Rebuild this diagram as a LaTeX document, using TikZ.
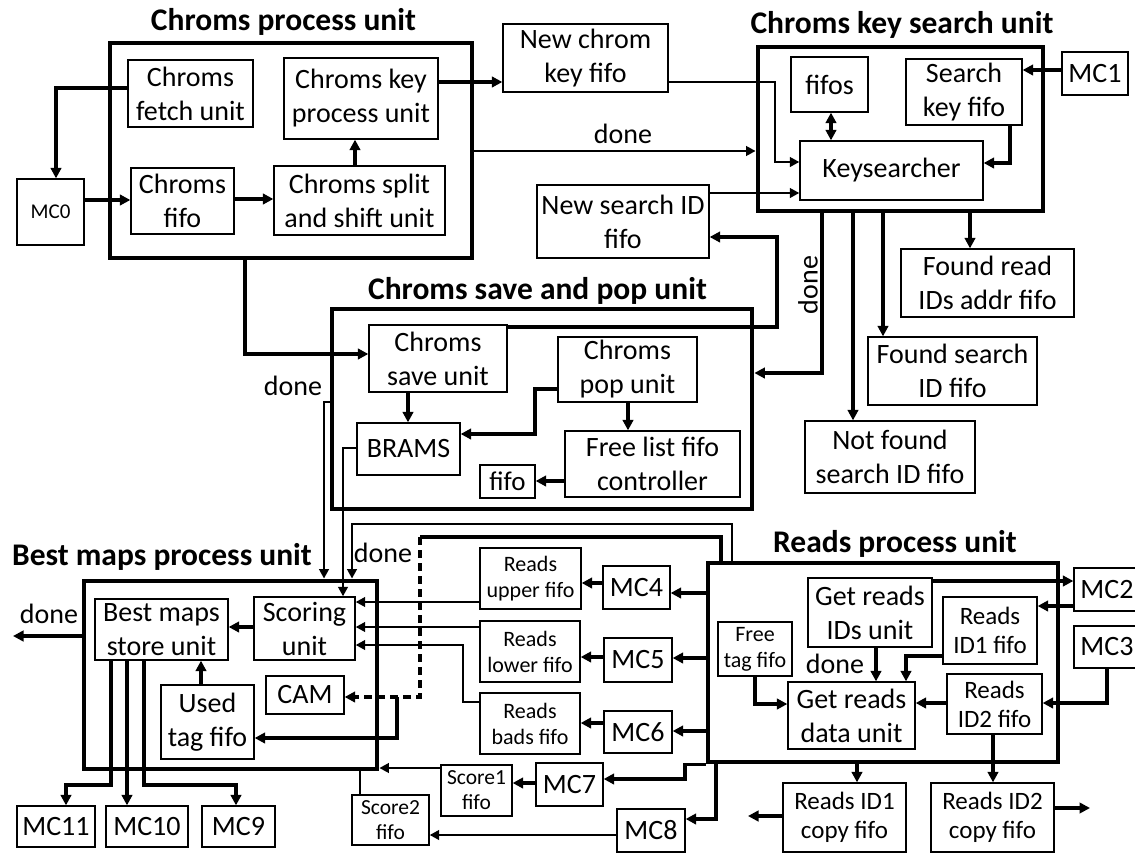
\documentclass[tikz,border=0pt]{standalone}
\usepackage{fontspec}
\setmainfont{Carlito}
\usetikzlibrary{arrows.meta}
\begin{document}
\begin{tikzpicture}[x=1pt,y=-1pt,
 box/.style={draw,line width=1.3pt,align=center,inner sep=0pt,font=\fontsize{28}{34}\selectfont},
 sbox/.style={box,font=\fontsize{22}{26}\selectfont},
 mbox/.style={box,font=\fontsize{25}{29}\selectfont},
 unit/.style={draw,line width=4.8pt,inner sep=0pt},
 title/.style={font=\bfseries\fontsize{31.5}{38}\selectfont,inner sep=0pt,anchor=base},
 lbl/.style={font=\fontsize{28}{34}\selectfont,inner sep=0pt,anchor=base},
 conn/.style={line width=3.3pt,-{Triangle[length=10.5pt,width=10.5pt]}},
 tconn/.style={line width=2.6pt,-{Triangle[length=9.5pt,width=9.5pt]}},
 plain/.style={line width=2.6pt},
]
\fill[white] (0,0) rectangle (1135,854);
\useasboundingbox (0,0) rectangle (1135,854);

% ---------- unit frames ----------
\node[unit,minimum width=362pt,minimum height=215pt] (CPU) at (291,150.5) {};
\node[unit,minimum width=285pt,minimum height=164pt] (KSU) at (900.5,129) {};
\node[unit,minimum width=420pt,minimum height=200pt] (SPU) at (542,409) {};
\node[unit,minimum width=293pt,minimum height=188pt] (BMU) at (230.5,675) {};
\node[unit,minimum width=350pt,minimum height=199pt] (RPU) at (883,662.5) {};

% ---------- titles ----------
\node[title] (tCPU) at (283.5,30) {Chroms process unit};
\node[title] (tKSU) at (902,33) {Chroms key search unit};
\node[title] (tSPU) at (537.5,299) {Chroms save and pop unit};
\node[title] (tBMU) at (162,565) {Best maps process unit};
\node[title] (tRPU) at (895,552) {Reads process unit};

% ---------- chroms process unit ----------
\node[box,minimum width=125pt,minimum height=67pt] (fetch) at (190.5,93.5) {Chroms\\fetch unit};
\node[box,minimum width=154pt,minimum height=81pt] (keyproc) at (361,98.5) {Chroms key\\process unit};
\node[box,minimum width=103pt,minimum height=66pt] (cfifo) at (182.5,201) {Chroms\\fifo};
\node[box,minimum width=171pt,minimum height=69pt] (split) at (359.5,200.5) {Chroms split\\and shift unit};
\node[box,font=\fontsize{21}{25}\selectfont,minimum width=67pt,minimum height=66pt] (MC0) at (50.5,212) {MC0};

\node[box,minimum width=165pt,minimum height=68pt] (newkey) at (585.5,58) {New chrom\\key fifo};
\node[box,minimum width=172pt,minimum height=73pt] (newsid) at (623,221.5) {New search ID\\fifo};

% ---------- key search unit ----------
\node[box,minimum width=77pt,minimum height=55pt] (fifos) at (829.5,84.5) {fifos};
\node[box,minimum width=116pt,minimum height=66pt] (skfifo) at (964,92) {Search\\key fifo};
\node[box,minimum width=66pt,minimum height=43pt] (MC1) at (1095,73.5) {MC1};
\node[box,minimum width=183pt,minimum height=59pt] (keys) at (891.5,170.5) {Keysearcher};
\node[box,minimum width=173pt,minimum height=68pt] (frida) at (987.5,283) {Found read\\IDs addr fifo};
\node[box,minimum width=169pt,minimum height=68pt] (fsid) at (952.5,371) {Found search\\ID fifo};
\node[box,minimum width=170pt,minimum height=72pt] (nfsid) at (890,457) {Not found\\search ID fifo};

% ---------- save and pop unit ----------
\node[box,minimum width=138pt,minimum height=67pt] (save) at (438,358.5) {Chroms\\save unit};
\node[box,minimum width=139pt,minimum height=65pt] (pop) at (627.5,369.5) {Chroms\\pop unit};
\node[box,minimum width=103pt,minimum height=52pt] (brams) at (408.5,449) {BRAMS};
\node[box,minimum width=175pt,minimum height=66pt] (flfc) at (652.5,464) {Free list fifo\\controller};
\node[box,font=\fontsize{27}{32}\selectfont,minimum width=55pt,minimum height=33pt] (smfifo) at (507.5,481.5) {fifo};

% ---------- best maps process unit ----------
\node[box,minimum width=133pt,minimum height=61pt] (store) at (161.5,629.5) {Best maps\\store unit};
\node[box,minimum width=101pt,minimum height=63pt] (scoring) at (304.5,628.5) {Scoring\\unit};
\node[box,minimum width=78pt,minimum height=38pt] (CAM) at (305,695) {CAM};
\node[box,minimum width=93pt,minimum height=74pt] (used) at (207.5,722) {Used\\tag fifo};
\node[box,minimum width=78pt,minimum height=41pt] (MC11) at (56,826.5) {MC11};
\node[box,minimum width=82pt,minimum height=41pt] (MC10) at (147,826.5) {MC10};
\node[box,minimum width=73pt,minimum height=41pt] (MC9) at (238.5,826.5) {MC9};

% ---------- middle fifos ----------
\node[sbox,minimum width=101pt,minimum height=61pt] (rupper) at (530.5,578.5) {Reads\\upper fifo};
\node[sbox,minimum width=100pt,minimum height=61pt] (rlower) at (530,651.5) {Reads\\lower fifo};
\node[sbox,minimum width=100pt,minimum height=61pt] (rbads) at (530,723.5) {Reads\\bads fifo};
\node[box,minimum width=67pt,minimum height=43pt] (MC4) at (636.5,587.5) {MC4};
\node[box,minimum width=68pt,minimum height=44pt] (MC5) at (638,660) {MC5};
\node[box,minimum width=68pt,minimum height=42pt] (MC6) at (638,732) {MC6};
\node[box,font=\fontsize{21.5}{25}\selectfont,minimum width=71pt,minimum height=51pt] (score1) at (476.5,790.5) {Score1\\fifo};
\node[box,font=\fontsize{21.5}{25}\selectfont,minimum width=77pt,minimum height=50pt] (score2) at (390.5,820) {Score2\\fifo};
\node[box,minimum width=67pt,minimum height=43pt] (MC7) at (569.5,784.5) {MC7};
\node[box,minimum width=68pt,minimum height=43pt] (MC8) at (651,830.5) {MC8};

% ---------- reads process unit ----------
\node[box,minimum width=124pt,minimum height=69pt] (grids) at (870,612.5) {Get reads\\IDs unit};
\node[mbox,minimum width=94pt,minimum height=67pt] (rid1) at (990,630.5) {Reads\\ID1 fifo};
\node[sbox,minimum width=74pt,minimum height=54pt] (ftag) at (755,649) {Free\\tag fifo};
\node[box,minimum width=127pt,minimum height=67pt] (grdata) at (851.5,715.5) {Get reads\\data unit};
\node[mbox,minimum width=95pt,minimum height=60pt] (rid2) at (994.5,704) {Reads\\ID2 fifo};
\node[box,minimum width=66pt,minimum height=43pt] (MC2) at (1107,589.5) {MC2};
\node[box,minimum width=66pt,minimum height=42pt] (MC3) at (1107,647) {MC3};
\node[mbox,minimum width=123pt,minimum height=69pt] (rid1c) at (844.5,817.5) {Reads ID1\\copy fifo};
\node[mbox,minimum width=123pt,minimum height=69pt] (rid2c) at (992.5,817.5) {Reads ID2\\copy fifo};

% ---------- free ends ----------
\coordinate (doneout) at (13,636);
\coordinate (id1out) at (748,816);
\coordinate (id2out) at (1090,808);
\coordinate (dj) at (397,697);

% ---------- labels ----------
\node[lbl] (l1) at (623,143) {done};
\node[lbl,rotate=90,anchor=center] (l2) at (808,285) {done};
\node[lbl] (l3) at (293,395) {done};
\node[lbl] (l4) at (383,562) {done};
\node[lbl] (l5) at (49,623) {done};
\node[lbl] (l6) at (835,673) {done};

% ---------- connectors: chroms process ----------
\draw[conn] (fetch.west |- 0,88) -| (MC0.north -| 56,0);
\draw[conn] (MC0.east |- 0,200) -- (cfifo.west |- 0,200);
\draw[conn] (cfifo.east |- 0,199) -- (split.west |- 0,199);
\draw[conn] (split.north -| 355,0) -- (keyproc.south -| 355,0);
\draw[conn] (keyproc.east |- 0,82) -- (newkey.west |- 0,82);
\draw[tconn] (newkey.east |- 0,82) -| (775,162) -- (keys.west |- 0,162);
\draw[tconn] (CPU.east |- 0,151) -- (KSU.west |- 0,151);
\draw[tconn] (newsid.east |- 0,193) -- (keys.west |- 0,193);
\draw[conn] (CPU.south -| 245,0) |- (save.west |- 0,354);

% ---------- connectors: key search ----------
\draw[conn] (MC1.west |- 0,70) -- (skfifo.east |- 0,70);
\draw[conn,{Triangle[length=10.5pt,width=10.5pt]}-{Triangle[length=10.5pt,width=10.5pt]}] (fifos.south -| 831,0) -- (keys.north -| 831,0);
\draw[conn] (skfifo.south -| 1010,0) |- (keys.east |- 0,163);
\draw[conn] (KSU.south -| 970,0) -- (frida.north -| 970,0);
\draw[conn] (KSU.south -| 883,0) -- (fsid.north -| 883,0);
\draw[conn] (KSU.south -| 853,0) -- (nfsid.north -| 853,0);
\draw[conn] (KSU.south -| 822,0) |- (SPU.east |- 0,373);

% ---------- connectors: save and pop ----------
\draw[conn] (save.east |- 0,327) -| (777,237) -- (newsid.east |- 0,237);
\draw[conn] (save.south -| 408,0) -- (brams.north -| 408,0);
\draw[conn] (pop.west |- 0,389) -| (535,434) -- (brams.east |- 0,434);
\draw[conn] (pop.south -| 628,0) -- (flfc.north -| 628,0);
\draw[conn] (flfc.west |- 0,481) -- (smfifo.east |- 0,481);
\draw[tconn] (SPU.west |- 0,402) -| (BMU.north -| 324,0);
\draw[tconn] (brams.west |- 0,448) -| (scoring.north -| 343,0);
\draw[tconn] (RPU.north -| 732,0) |- (352,524) -- (BMU.north -| 352,0);
\draw[line width=3.3pt] (RPU.north -| 721,0) |- (420,537);
\draw[conn,dash pattern=on 8pt off 5pt] (420,537) |- (CAM.east |- 0,697);
\draw[conn] (dj) |- (used.east |- 0,738);

% ---------- connectors: best maps ----------
\draw[conn] (BMU.west |- 0,636) -- (doneout);
\draw[conn] (scoring.west |- 0,627) -- (store.east |- 0,627);
\draw[conn] (used.north -| 201,0) -- (store.south -| 201,0);
\draw[conn] (store.south -| 111,0) |- (66,785) -- (MC11.north -| 66,0);
\draw[conn] (store.south -| 127,0) -- (MC10.north -| 127,0);
\draw[conn] (store.south -| 144,0) |- (236,785) -- (MC9.north -| 236,0);
\draw[tconn] (rupper.west |- 0,602) -- (scoring.east |- 0,602);
\draw[tconn] (rlower.west |- 0,627) -- (scoring.east |- 0,627);
\draw[tconn] (rbads.west |- 0,702) -| (463,645) -- (scoring.east |- 0,645);
\draw[conn] (MC4.west |- 0,583) -- (rupper.east |- 0,583);
\draw[conn] (MC5.west |- 0,657) -- (rlower.east |- 0,657);
\draw[conn] (MC6.west |- 0,723) -- (rbads.east |- 0,723);
\draw[conn] (RPU.west |- 0,593) -- (MC4.east |- 0,593);
\draw[conn] (RPU.west |- 0,658) -- (MC5.east |- 0,658);
\draw[conn] (RPU.west |- 0,731) -- (MC6.east |- 0,731);
\draw[conn] (RPU.south west) -| (685,779) -- (MC7.east |- 0,779);
\draw[conn] (RPU.south -| 716,0) |- (MC8.east |- 0,819);
\draw[conn] (MC7.west |- 0,783) -- (score1.east |- 0,783);
\draw[tconn] (score1.west |- 0,768) -- (BMU.east |- 0,768);
\draw[plain] (score2.north -| 360,0) -- (BMU.south -| 360,0);
\draw[tconn] (MC8.west |- 0,835) -- (score2.east |- 0,835);

% ---------- connectors: reads process ----------
\draw[conn] (grids.east |- 0,581) -- (MC2.west |- 0,581);
\draw[conn] (MC2.west |- 0,606) -- (rid1.east |- 0,606);
\draw[conn] (MC3.south -| 1107,0) |- (rid2.east |- 0,703);
\draw[conn] (rid2.west |- 0,703) -- (grdata.east |- 0,703);
\draw[conn] (rid1.west |- 0,656) -| (grdata.north -| 906,0);
\draw[conn] (grids.south -| 876,0) -- (grdata.north -| 876,0);
\draw[conn] (ftag.south -| 755,0) |- (grdata.west |- 0,704);
\draw[conn] (RPU.south -| 857,0) -- (rid1c.north -| 857,0);
\draw[conn] (rid2.south -| 993,0) -- (rid2c.north -| 993,0);
\draw[conn] (rid1c.west |- 0,816) -- (id1out);
\draw[conn] (rid2c.east |- 0,808) -- (id2out);
\end{tikzpicture}
\end{document}
